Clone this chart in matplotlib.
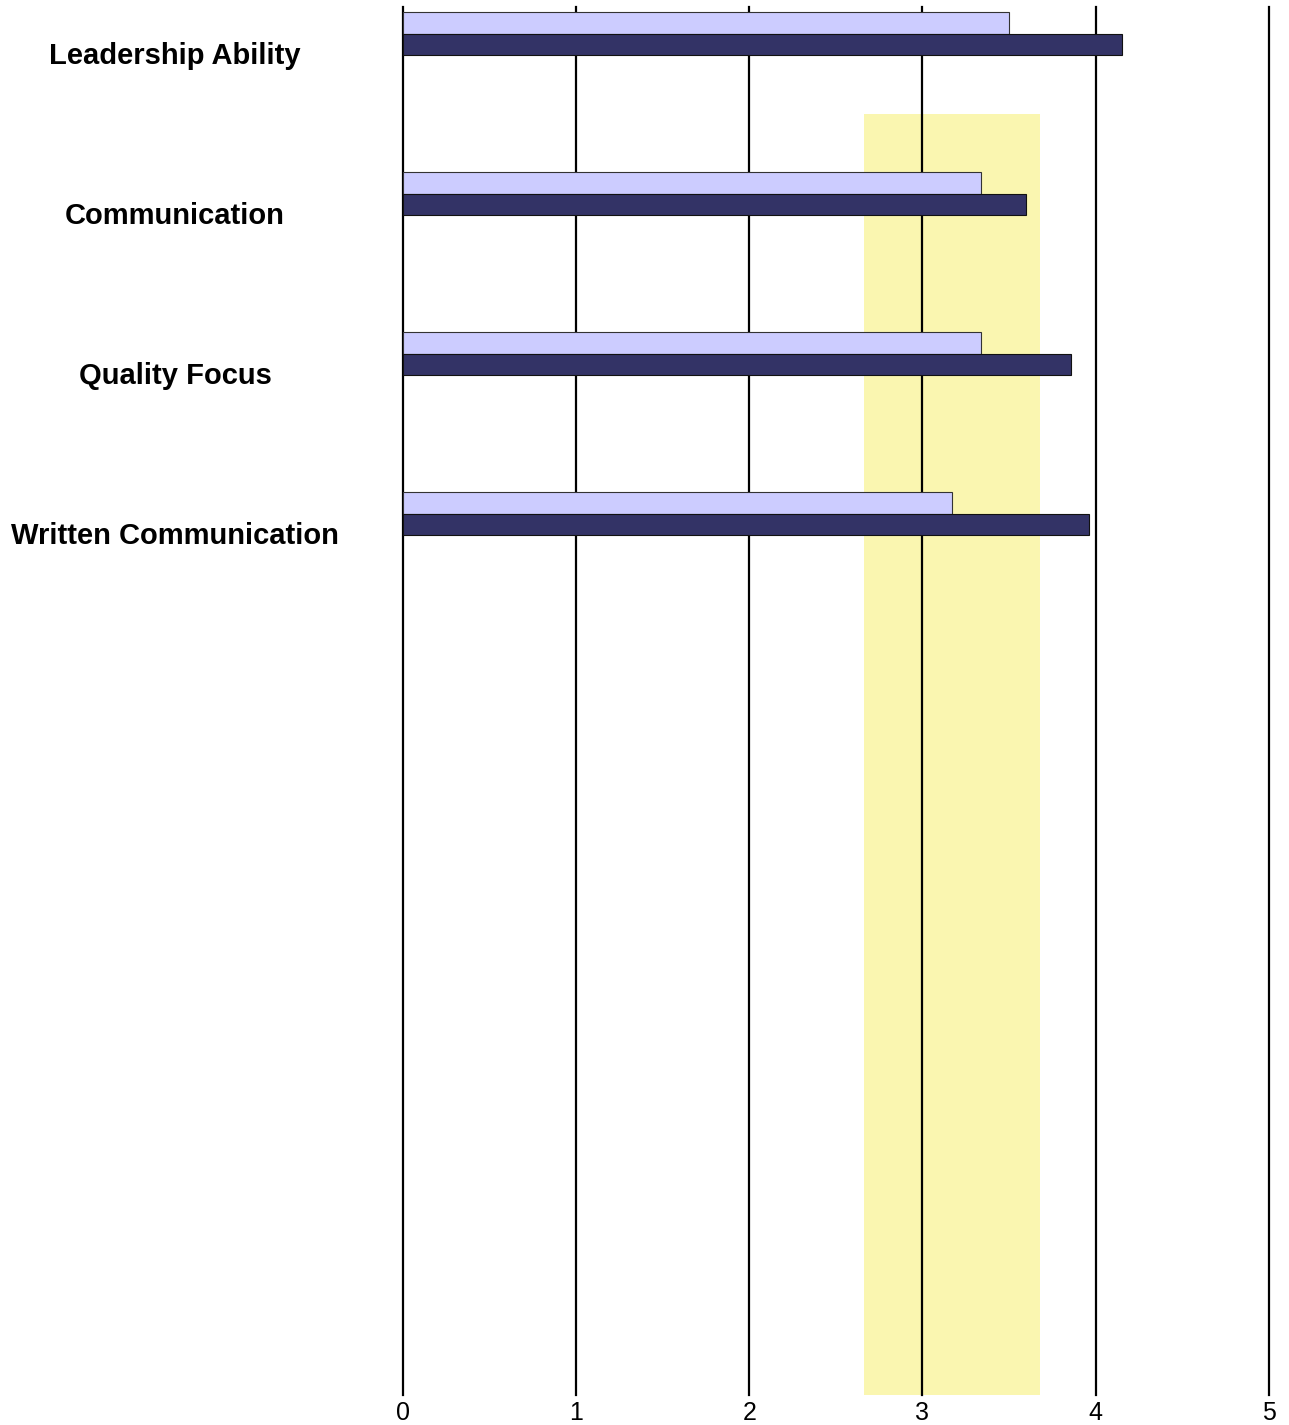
import matplotlib
matplotlib.use("Agg")
import matplotlib.pyplot as plt
from matplotlib import font_manager
from matplotlib.transforms import blended_transform_factory

# Competency ratings (0-5 scale)
categories = ["Leadership Ability", "Communication", "Quality Focus", "Written Communication"]
self_scores = [3.50, 3.34, 3.34, 3.17]
other_scores = [4.15, 3.60, 3.86, 3.96]
target_range = (2.66, 3.68)
x_ticks = [0, 1, 2, 3, 4, 5]

installed = {f.name for f in font_manager.fontManager.ttflist}
label_font = "Liberation Sans" if "Liberation Sans" in installed else "DejaVu Sans"
tick_font = "Liberation Sans Narrow" if "Liberation Sans Narrow" in installed else label_font

W, H = 1289, 1425
fig = plt.figure(figsize=(W / 100, H / 100), dpi=100)
ax = fig.add_axes([402.7 / W, 1 - 1395 / H, (1269 - 402.7) / W, (1395 - 7) / H])

bar_h = 0.133
light = "#CCCCFF"
dark = "#333366"
ypos = list(range(len(categories)))

# target band starts between the first and second rows and runs to the bottom
ax.fill_betweenx([0.5, 8.51], target_range[0], target_range[1],
                 color="#FAF6B0", lw=0, zorder=0)

for x in x_ticks:
    ax.axvline(x, color="black", lw=1.6, zorder=1, clip_on=False)

ax.barh([y - bar_h / 2 for y in ypos], self_scores, height=bar_h,
        color=light, edgecolor="#333333", linewidth=0.8, zorder=2)
ax.barh([y + bar_h / 2 for y in ypos], other_scores, height=bar_h,
        color=dark, edgecolor="#111111", linewidth=0.8, zorder=2)

ax.set_xlim(0, 5)
ax.set_ylim(8.51, -0.166)
for s in ax.spines.values():
    s.set_visible(False)
ax.set_yticks([])
ax.set_xticks(x_ticks)
ax.set_xticklabels([str(v) for v in x_ticks], fontsize=18, family=tick_font)
ax.tick_params(axis="x", length=0, pad=4)

trans = blended_transform_factory(fig.transFigure, ax.transData)
for y, name in zip(ypos, categories):
    fig.text(175 / W, y + 0.14, name, transform=trans, ha="center", va="center",
             fontsize=21, fontweight="bold", family=label_font)

fig.savefig("out.png", dpi=100)
